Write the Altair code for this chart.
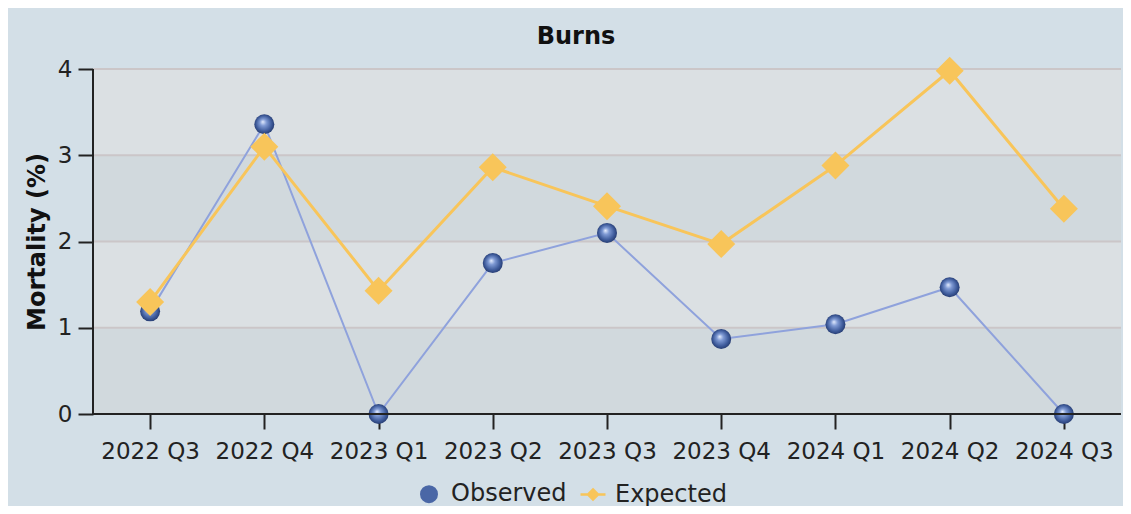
import altair as alt
import pandas as pd

quarters = ["2022 Q3", "2022 Q4", "2023 Q1", "2023 Q2", "2023 Q3",
            "2023 Q4", "2024 Q1", "2024 Q2", "2024 Q3"]
observed = [1.19, 3.36, 0.0, 1.75, 2.10, 0.87, 1.04, 1.47, 0.0]
expected = [1.30, 3.10, 1.43, 2.86, 2.41, 1.97, 2.88, 3.98, 2.38]
series_names = ["Observed", "Expected"]
y_ticks = [0, 1, 2, 3, 4]

FONT = "DejaVu Sans"
TXT = "#222222"
BLUE = "#4a67a6"
BLUE_LINE = "#8fa2dc"
GOLD = "#f8c55a"
BG = "#d3dfe7"
BAND_DARK = "#d1d9dd"
BAND_LIGHT = "#dbe0e3"
GRID = "#cbc6c8"

LEG_CIRCLE = "M0.62,0A0.62,0.62 0 1,1 -0.62,0A0.62,0.62 0 1,1 0.62,0Z"
LEG_LINE_DIAMOND = "M-1,0L-0.4,0M0.4,0L1,0M0,-0.4L0.4,0L0,0.4L-0.4,0Z"

df = pd.DataFrame({
    "quarter": quarters * 2,
    "value": observed + expected,
    "series": [series_names[0]] * len(quarters) + [series_names[1]] * len(quarters),
})
bands = pd.DataFrame({
    "y0": y_ticks[:-1],
    "y1": y_ticks[1:],
    "shade": ["dark" if i % 2 == 0 else "light" for i in range(len(y_ticks) - 1)],
})
grid = pd.DataFrame({"t": y_ticks[1:]})

x_axis = alt.Axis(title=None, labelAngle=0, domain=False, tickSize=15, tickWidth=2,
                  tickColor=TXT, labelFontSize=23, labelFont=FONT, labelColor=TXT,
                  labelPadding=11, grid=False)
x_enc = alt.X("quarter:N", sort=quarters,
              scale=alt.Scale(type="point", padding=0.5), axis=x_axis)
y_scale = alt.Scale(domain=[0, 4], nice=False, zero=True)
y_axis = alt.Axis(values=y_ticks, title="Mortality (%)", grid=False, domain=False,
                  tickSize=15, tickWidth=2, tickColor=TXT, labelFontSize=23,
                  labelFont=FONT, labelColor=TXT, labelPadding=6, orient="left",
                  titleFont=FONT, titleFontSize=24, titleFontWeight="bold",
                  titleColor="#111111", titlePadding=8)


def Y(field):
    return alt.Y(field, scale=y_scale, axis=y_axis, title="Mortality (%)")


band_layer = alt.Chart(bands).mark_rect().encode(
    x=alt.value(0), x2=alt.value("width"),
    y=Y("y0:Q"), y2="y1:Q",
    fill=alt.Fill("shade:N", scale=alt.Scale(domain=["dark", "light"],
                                             range=[BAND_DARK, BAND_LIGHT]), legend=None),
)
grid_layer = alt.Chart(grid).mark_rule(color=GRID, strokeWidth=2).encode(y=Y("t:Q"))
yaxis_line = alt.Chart(grid).mark_rule(color=TXT, strokeWidth=2).encode(
    x=alt.value(0), y=alt.value(0), y2=alt.value("height")
)
xaxis_line = alt.Chart(grid).mark_rule(color=TXT, strokeWidth=2).encode(
    x=alt.value(0), x2=alt.value("width"), y=alt.value("height")
)

obs = df[df.series == series_names[0]]
exp = df[df.series == series_names[1]]

obs_line = alt.Chart(obs).mark_line(color=BLUE_LINE, strokeWidth=2).encode(x=x_enc, y=Y("value:Q"))
exp_line = alt.Chart(exp).mark_line(color=GOLD, strokeWidth=3).encode(x=x_enc, y=Y("value:Q"))

sphere = alt.Gradient(
    gradient="radial",
    stops=[alt.GradientStop(color="#e6eeff", offset=0),
           alt.GradientStop(color="#7f9ad4", offset=0.3),
           alt.GradientStop(color="#3f5c9c", offset=0.7),
           alt.GradientStop(color="#1f3366", offset=1)],
    x1=0.42, y1=0.38, r1=0, x2=0.5, y2=0.5, r2=0.55,
)
obs_pts = alt.Chart(obs).mark_point(filled=True, shape="circle", size=400, fill=sphere,
                                    opacity=1).encode(x=x_enc, y=Y("value:Q"))
exp_pts = alt.Chart(exp).mark_point(filled=True, shape="diamond", size=784, color=GOLD,
                                    opacity=1).encode(x=x_enc, y=Y("value:Q"))

legend_layer = alt.Chart(df).mark_point(filled=True, opacity=0, size=625).encode(
    x=x_enc, y=Y("value:Q"),
    color=alt.Color("series:N", scale=alt.Scale(domain=series_names, range=[BLUE, GOLD]),
                    legend=alt.Legend(title=None, orient="none", direction="horizontal",
                                      legendX=322, legendY=411, labelFont=FONT,
                                      labelFontSize=24, labelColor=TXT, symbolOpacity=1,
                                      symbolSize=625, symbolStrokeWidth=2.5,
                                      labelOffset=8, columnPadding=8)),
    stroke=alt.Stroke("series:N", scale=alt.Scale(domain=series_names, range=[BLUE, GOLD]),
                      legend=None),
    shape=alt.Shape("series:N", scale=alt.Scale(domain=series_names,
                                                range=[LEG_CIRCLE, LEG_LINE_DIAMOND]),
                    legend=None),
)

chart = alt.layer(
    band_layer, grid_layer, obs_line, exp_line, legend_layer, obs_pts, exp_pts,
    yaxis_line, xaxis_line,
).properties(
    width=1028, height=345,
    padding={"left": 85, "top": 61, "right": 2, "bottom": 92},
    autosize=alt.AutoSizeParams(type="none"),
    title=alt.TitleParams("Burns", font=FONT, fontSize=24, fontWeight="bold",
                          color="#111111", anchor="middle", offset=8, dx=-31),
).configure(background=BG).configure_view(stroke=None)

chart.save("out.html", embed_options={"renderer": "svg", "actions": False})
